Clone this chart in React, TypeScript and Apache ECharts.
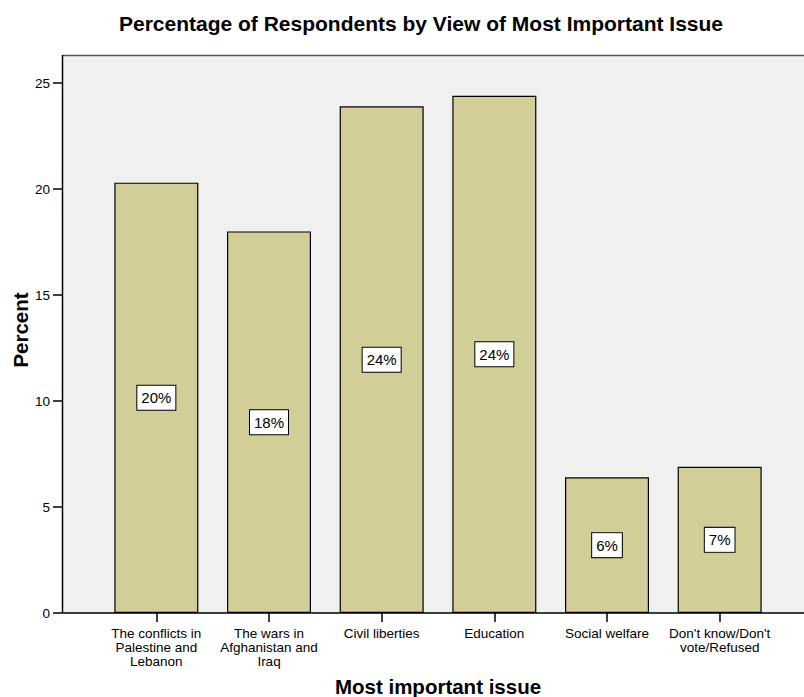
import React, { useEffect, useRef } from "react";
import * as echarts from "echarts";

const categories = [
  "The conflicts in\nPalestine and\nLebanon",
  "The wars in\nAfghanistan and\nIraq",
  "Civil liberties",
  "Education",
  "Social welfare",
  "Don't know/Don't\nvote/Refused",
];
const percents = [20.3, 18.0, 23.9, 24.4, 6.4, 6.9];
const yTicks = { min: 0, max: 25, interval: 5 };

const FONT = "'Liberation Sans', Arial, sans-serif";

export default function App() {
  const ref = useRef<HTMLDivElement>(null);
  useEffect(() => {
    document.body.style.margin = "0";
    if (!ref.current) return;
    const chart = echarts.init(ref.current, null, { renderer: "svg" });
    chart.setOption({
      animation: false,
      backgroundColor: "#ffffff",
      textStyle: { fontFamily: FONT },
      title: {
        text: "Percentage of Respondents by View of Most Important Issue",
        left: 416,
        top: 8,
        textAlign: "center",
        textStyle: { fontFamily: FONT, fontSize: 21, fontWeight: "bold", color: "#000" },
      },
      graphic: [
        {
          type: "rect",
          z: -10,
          silent: true,
          shape: { x: 62, y: 55, width: 742, height: 558 },
          style: { fill: "#F0F0F0" },
        },
        {
          type: "line",
          z: -9,
          silent: true,
          shape: { x1: 62, y1: 55.5, x2: 804, y2: 55.5 },
          style: { stroke: "#555", lineWidth: 1.5 },
        },
        {
          type: "line",
          z: 50,
          silent: true,
          shape: { x1: 62, y1: 613, x2: 804, y2: 613 },
          style: { stroke: "#000", lineWidth: 1.5 },
        },
        {
          type: "line",
          z: 50,
          silent: true,
          shape: { x1: 62.5, y1: 55, x2: 62.5, y2: 613 },
          style: { stroke: "#000", lineWidth: 1.5 },
        },
        {
          type: "text",
          x: 20.5,
          y: 330,
          rotation: Math.PI / 2,
          style: {
            text: "Percent",
            fontFamily: FONT,
            fontSize: 20.5,
            fontWeight: "bold",
            fill: "#000",
            align: "center",
            verticalAlign: "middle",
          },
        },
      ],
      grid: {
        left: 100,
        right: 28,
        top: 83,
        bottom: 84,
        containLabel: false,
        outerBoundsMode: "none",
      },
      xAxis: {
        type: "category",
        data: categories,
        name: "Most important issue",
        nameLocation: "middle",
        nameGap: 63,
        nameMoveOverlap: false,
        nameTextStyle: { fontFamily: FONT, fontSize: 20.5, fontWeight: "bold", color: "#000" },
        axisLine: { show: false },
        axisTick: { show: true, alignWithLabel: true, length: 9, lineStyle: { color: "#000", width: 1.5 } },
        axisLabel: {
          interval: 0,
          margin: 13,
          fontFamily: FONT,
          fontSize: 13.5,
          lineHeight: 14,
          color: "#000",
        },
        splitLine: { show: false },
      },
      yAxis: {
        type: "value",
        min: yTicks.min,
        max: yTicks.max,
        interval: yTicks.interval,
        offset: 38,
        axisLine: { show: false },
        axisTick: { show: true, length: 9, lineStyle: { color: "#000", width: 1.5 } },
        axisLabel: { margin: 12, fontFamily: FONT, fontSize: 13.5, color: "#000" },
        splitLine: { show: false },
      },
      series: [
        {
          type: "bar",
          data: percents,
          barWidth: 84,
          itemStyle: { color: "#D2CE98", borderColor: "#000", borderWidth: 1.2 },
          label: {
            show: true,
            position: "inside",
            formatter: (p: any) => Math.round(p.value) + "%",
            fontFamily: FONT,
            fontSize: 15,
            color: "#000",
            backgroundColor: "#fff",
            borderColor: "#000",
            borderWidth: 1,
            padding: [5, 4, 4, 4],
          },
        },
      ],
    });
    return () => chart.dispose();
  }, []);
  return <div ref={ref} style={{ width: 804, height: 697 }} />;
}
